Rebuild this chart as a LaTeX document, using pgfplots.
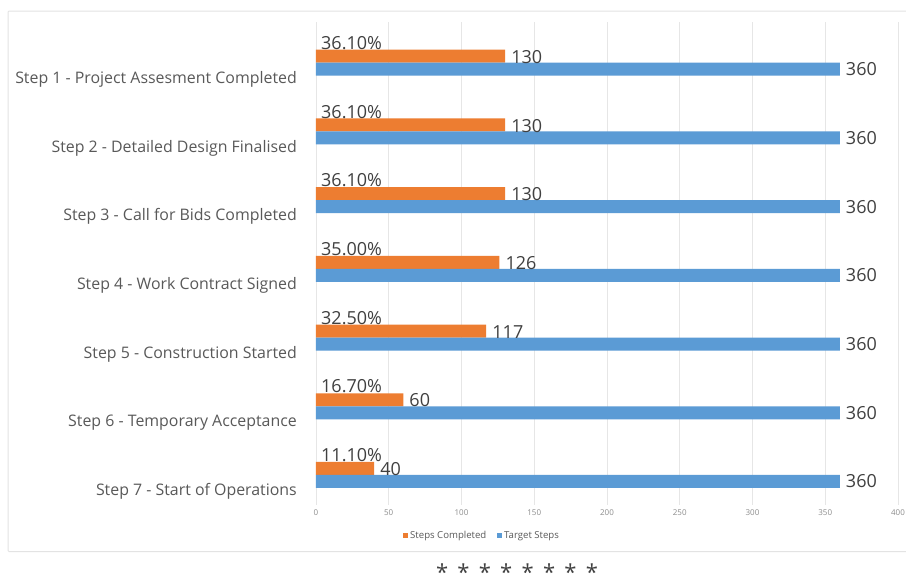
\documentclass[border=0pt]{standalone}
\usepackage{pgfplots}
\usepackage{pgfplotstable}
\pgfplotsset{compat=1.18}
\usepackage{fontspec}
\setmainfont{Open Sans}
\definecolor{barorange}{HTML}{ED7D31}
\definecolor{barblue}{HTML}{5B9BD5}
\definecolor{gridgray}{HTML}{E6E6E6}
\definecolor{framegray}{HTML}{E3E3E3}
\definecolor{labgray}{HTML}{404040}
\definecolor{catgray}{HTML}{595959}
\definecolor{tickgray}{HTML}{8C8C8C}

\pgfplotstableread{
cat done target pct
1 130 360 36.10
2 130 360 36.10
3 130 360 36.10
4 126 360 35.00
5 117 360 32.50
6 60 360 16.70
7 40 360 11.10
}\data

\begin{document}
\begin{tikzpicture}
\useasboundingbox (0,0) rectangle (906pt,-576pt);
\fill[white] (0,0) rectangle (906pt,-576pt);
\draw[framegray, line width=1pt, rounded corners=1pt] (8pt,-11pt) rectangle (930pt,-551.5pt);
\begin{axis}[
  at={(316pt,-22pt)}, anchor=north west,
  scale only axis, width=582pt, height=483pt,
  xmin=0, xmax=400,
  y dir=reverse, ymin=0.408, ymax=7.437,
  clip=false,
  axis line style={draw=none},
  major tick length=0pt,
  xmajorgrids, grid style={gridgray, line width=0.8pt},
  xtick={0,50,...,400},
  ytick={1,...,7},
  yticklabels={Step 1 - Project Assesment Completed, Step 2 - Detailed Design Finalised, Step 3 - Call for Bids Completed, Step 4 - Work Contract Signed, Step 5 - Construction Started, Step 6 - Temporary Acceptance, Step 7 - Start of Operations},
  /pgf/number format/assume math mode=true,
  xticklabel style={anchor=center, yshift=-8pt, font=\fontsize{8}{9}\selectfont, text=tickgray},
  yticklabel style={anchor=base east, inner sep=0pt, xshift=-19pt, yshift=-20.6pt, font=\fontsize{15.9}{19}\selectfont, text=catgray},
  legend style={at={(axis description cs:0.2855,0)}, anchor=center, yshift=-30.5pt, draw=none, fill=none,
    font=\fontsize{9.6}{11}\selectfont, text=catgray, legend columns=2,
    /tikz/every even column/.append style={column sep=9pt}},
  legend cell align=left,
]
\addplot[xbar, bar width=13pt, bar shift=6.5pt, fill=barorange, draw=none,
  legend image code/.code={\fill[barorange] (0pt,-2.4pt) rectangle (4.8pt,2.4pt);}]
  table[x=done, y=cat]{\data};
\addlegendentry{Steps Completed}
\addplot[xbar, bar width=13pt, bar shift=-6.5pt, fill=barblue, draw=none,
  legend image code/.code={\fill[barblue] (0pt,-2.4pt) rectangle (4.8pt,2.4pt);}]
  table[x=target, y=cat]{\data};
\addlegendentry{Target Steps}
% percentage labels
\addplot[draw=none, mark=none, forget plot, point meta=explicit,
  nodes near coords={\pgfmathprintnumber[fixed,fixed zerofill,precision=2]{\pgfplotspointmeta}\%},
  nodes near coords style={anchor=base west, inner sep=0pt, xshift=5pt, yshift=13.3pt, font=\fontsize{18}{21}\selectfont, text=labgray}]
  table[x expr=0, y=cat, meta=pct]{\data};
% completed value labels
\addplot[draw=none, mark=none, forget plot, point meta=explicit,
  nodes near coords={\pgfmathprintnumber{\pgfplotspointmeta}},
  nodes near coords style={anchor=base west, inner sep=0pt, xshift=6pt, yshift=-0.6pt, font=\fontsize{18}{21}\selectfont, text=labgray}]
  table[x=done, y=cat, meta=done]{\data};
% target value labels
\addplot[draw=none, mark=none, forget plot, point meta=explicit,
  nodes near coords={\pgfmathprintnumber{\pgfplotspointmeta}},
  nodes near coords style={anchor=base west, inner sep=0pt, xshift=6pt, yshift=-13pt, font=\fontsize{18}{21}\selectfont, text=labgray}]
  table[x=target, y=cat, meta=target]{\data};
\end{axis}
\node[anchor=base, inner sep=0pt, font=\fontsize{22}{26}\selectfont, text=labgray] at (517pt,-580pt)
  {\makebox[21.4pt]{*}\makebox[21.4pt]{*}\makebox[21.4pt]{*}\makebox[21.4pt]{*}\makebox[21.4pt]{*}\makebox[21.4pt]{*}\makebox[21.4pt]{*}\makebox[21.4pt]{*}};
\end{tikzpicture}
\end{document}
